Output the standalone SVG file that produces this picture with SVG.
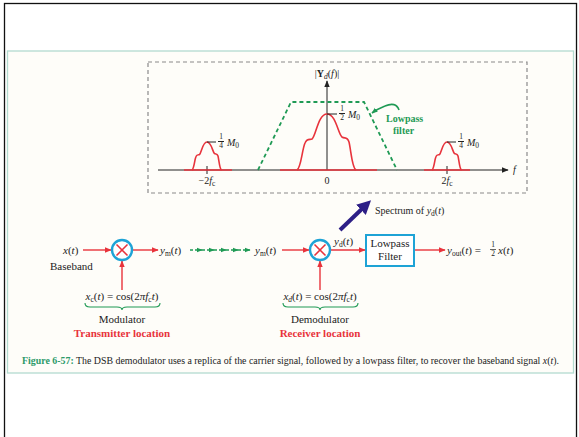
<svg xmlns="http://www.w3.org/2000/svg" width="579" height="437" viewBox="0 0 579 437">
<style>
text{font-family:"Liberation Serif","Times New Roman",serif;fill:#222;}
.it{font-style:italic;}
.lbl{font-size:11px;}
.sm{font-size:10px;}
.sub{font-size:7.5px;}
.red{stroke:#e8333c;fill:none;stroke-width:1.6;}
.redline{stroke:#e8333c;stroke-width:1.4;fill:none;}
.axis{stroke:#222;stroke-width:1;fill:none;}
.green{stroke:#1f9a55;fill:none;}
.ring{stroke:#1ea3d6;stroke-width:2.4;fill:#fff;}
.xmark{stroke:#e8333c;stroke-width:1.6;}
.rtitle{font-weight:bold;fill:#e8333c;font-size:11px;}
</style>
<defs>
<marker id="ah" viewBox="0 0 10 10" refX="9" refY="5" markerWidth="7" markerHeight="7" orient="auto" markerUnits="userSpaceOnUse"><path d="M0,1 L10,5 L0,9 z" fill="#e8333c"/></marker>
<marker id="ahk" viewBox="0 0 10 10" refX="9" refY="5" markerWidth="7" markerHeight="7" orient="auto" markerUnits="userSpaceOnUse"><path d="M0,1 L10,5 L0,9 z" fill="#222"/></marker>
<marker id="ahg" viewBox="0 0 10 10" refX="9" refY="5" markerWidth="6" markerHeight="6" orient="auto" markerUnits="userSpaceOnUse"><path d="M0,1 L10,5 L0,9 z" fill="#1f9a55"/></marker>
<marker id="ahb" viewBox="0 0 10 10" refX="5" refY="5" markerWidth="14" markerHeight="14" orient="auto" markerUnits="userSpaceOnUse"><path d="M0,0 L10,5 L0,10 z" fill="#2d1f86"/></marker>
</defs>

<rect x="0" y="0" width="579" height="437" fill="#ffffff"/>
<rect x="4.5" y="3.5" width="572" height="440" fill="none" stroke="#111" stroke-width="1.3"/>
<rect x="7.5" y="51" width="566" height="322" fill="#fefdf9" stroke="#b3dbd0" stroke-width="1.3"/>

<g id="spectrum">
<rect x="148" y="62" width="379" height="131" fill="none" stroke="#8a8a8a" stroke-width="1.2" stroke-dasharray="4,3"/>
<line class="axis" x1="158" y1="170" x2="508" y2="170" marker-end="url(#ahk)"/>
<line class="axis" x1="327" y1="170" x2="327" y2="81" marker-end="url(#ahk)"/>
<line class="axis" x1="207" y1="166" x2="207" y2="174"/>
<line class="axis" x1="447" y1="166" x2="447" y2="174"/>
<line class="redline" x1="280" y1="170" x2="377" y2="170"/>
<line class="redline" x1="184" y1="170" x2="232" y2="170"/>
<line class="redline" x1="424" y1="170" x2="470" y2="170"/>
<path class="red" d="M297,170 C301,168 302,150 305,143 C307,138 310,140 312,139 C316,136 318,114 327,114 C336,114 338,134 342,137 C345,139 347,136 349,142 C351,150 352,168 356,170"/>
<path class="red" d="M192,170 C194,169 194.5,160 196,156.5 C197,154 198.5,155 199.5,154.5 C201.5,153 202.5,142 207,142 C211.5,142 212.5,152 214.5,153.5 C216,154.5 217,153 218,156 C219,160 219.5,169 221.5,170"/>
<path class="red" d="M432,170 C434,169 434.5,160 436,156.5 C437,154 438.5,155 439.5,154.5 C441.5,153 442.5,142 447,142 C451.5,142 452.5,152 454.5,153.5 C456,154.5 457,153 458,156 C459,160 459.5,169 461.5,170"/>
<path d="M258,170 L291,102 L364,102 L397,170" stroke="#1f9a55" stroke-width="1.8" fill="none" stroke-dasharray="4,3"/>
<path d="M399,110 C397,104 392,103 385,106 C380,108 376,110 372,113" class="green" stroke-width="1.6" marker-end="url(#ahg)"/>
<text x="386" y="122" style="font-weight:bold;fill:#1f9a55;font-size:10px">Lowpass</text>
<text x="393" y="134" style="font-weight:bold;fill:#1f9a55;font-size:10px">filter</text>
<text x="327" y="77" text-anchor="middle" class="sm">|<tspan font-weight="bold">Y</tspan><tspan class="it sub" dy="2">d</tspan><tspan dy="-2">(</tspan><tspan class="it">f</tspan>)|</text>
<text x="513" y="173" class="it sm">f</text>
<text x="207" y="184" text-anchor="middle" class="sm">−2<tspan class="it">f</tspan><tspan class="sub" dy="2">c</tspan></text>
<text x="327" y="184" text-anchor="middle" class="sm">0</text>
<text x="447" y="184" text-anchor="middle" class="sm">2<tspan class="it">f</tspan><tspan class="sub" dy="2">c</tspan></text>
<line class="axis" x1="327" y1="114" x2="337" y2="114"/>
<text x="342" y="111" text-anchor="middle" style="font-size:7.5px">1</text>
<line class="axis" x1="339" y1="113.5" x2="345" y2="113.5" stroke-width="0.7"/>
<text x="342" y="120" text-anchor="middle" style="font-size:7.5px">2</text>
<text x="348" y="118" class="it sm">M<tspan class="sub" dy="2" font-style="normal">0</tspan></text>
<line class="axis" x1="207" y1="142" x2="216" y2="142"/>
<text x="221" y="139" text-anchor="middle" style="font-size:7.5px">1</text>
<line class="axis" x1="218" y1="141.5" x2="224" y2="141.5" stroke-width="0.7"/>
<text x="221" y="148" text-anchor="middle" style="font-size:7.5px">4</text>
<text x="227" y="146" class="it sm">M<tspan class="sub" dy="2" font-style="normal">0</tspan></text>
<line class="axis" x1="447" y1="142" x2="456" y2="142"/>
<text x="461" y="139" text-anchor="middle" style="font-size:7.5px">1</text>
<line class="axis" x1="458" y1="141.5" x2="464" y2="141.5" stroke-width="0.7"/>
<text x="461" y="148" text-anchor="middle" style="font-size:7.5px">4</text>
<text x="467" y="146" class="it sm">M<tspan class="sub" dy="2" font-style="normal">0</tspan></text>
</g>

<g id="connectors">
<line class="redline" x1="83" y1="250" x2="111" y2="250" marker-end="url(#ah)"/>
<line class="redline" x1="133" y1="250" x2="158" y2="250" marker-end="url(#ah)"/>
<line class="redline" x1="122" y1="290" x2="122" y2="261" marker-end="url(#ah)"/>
<g class="green" stroke-width="1.4">
<line x1="190" y1="250" x2="202" y2="250" stroke-dasharray="3,2" marker-end="url(#ahg)"/>
<line x1="202" y1="250" x2="214" y2="250" stroke-dasharray="3,2" marker-end="url(#ahg)"/>
<line x1="214" y1="250" x2="226" y2="250" stroke-dasharray="3,2" marker-end="url(#ahg)"/>
<line x1="226" y1="250" x2="238" y2="250" stroke-dasharray="3,2" marker-end="url(#ahg)"/>
<line x1="238" y1="250" x2="250" y2="250" stroke-dasharray="3,2" marker-end="url(#ahg)"/>
</g>
<line class="redline" x1="282" y1="250" x2="309" y2="250" marker-end="url(#ah)"/>
<line class="redline" x1="331" y1="250" x2="365" y2="250" marker-end="url(#ah)"/>
<line class="redline" x1="320" y1="290" x2="320" y2="261" marker-end="url(#ah)"/>
<line class="redline" x1="414" y1="250" x2="445" y2="250" marker-end="url(#ah)"/>
<line x1="340" y1="230" x2="366" y2="205" stroke="#2d1f86" stroke-width="4" marker-end="url(#ahb)"/>
</g>

<g id="input">
<text x="63" y="254" class="lbl"><tspan class="it">x</tspan>(<tspan class="it">t</tspan>)</text>
<text x="50" y="270" class="lbl">Baseband</text>
</g>

<g id="modulator">
<circle cx="122" cy="250" r="10" class="ring"/>
<line class="xmark" x1="116.5" y1="244.5" x2="127.5" y2="255.5"/>
<line class="xmark" x1="127.5" y1="244.5" x2="116.5" y2="255.5"/>
<text x="122" y="300" text-anchor="middle" class="lbl"><tspan class="it">x</tspan><tspan class="sub" dy="2">c</tspan><tspan dy="-2">(</tspan><tspan class="it">t</tspan>) = cos(2<tspan class="it">πf</tspan><tspan class="sub" dy="2">c</tspan><tspan class="it" dy="-2">t</tspan>)</text>
<path d="M85,303 Q85,307 90,307 L117,307 Q122,307 122,310 Q122,307 127,307 L155,307 Q160,307 160,303" class="green" stroke-width="1.1"/>
<text x="122" y="323" text-anchor="middle" class="lbl">Modulator</text>
<text x="122" y="337" text-anchor="middle" class="rtitle">Transmitter location</text>
</g>

<g id="channel">
<text x="160" y="254" class="lbl"><tspan class="it">y</tspan><tspan class="sub" dy="2">m</tspan><tspan dy="-2">(</tspan><tspan class="it">t</tspan>)</text>
<text x="255" y="254" class="lbl"><tspan class="it">y</tspan><tspan class="sub" dy="2">m</tspan><tspan dy="-2">(</tspan><tspan class="it">t</tspan>)</text>
</g>

<g id="demodulator">
<circle cx="320" cy="250" r="10" class="ring"/>
<line class="xmark" x1="314.5" y1="244.5" x2="325.5" y2="255.5"/>
<line class="xmark" x1="325.5" y1="244.5" x2="314.5" y2="255.5"/>
<text x="334" y="245" class="lbl"><tspan class="it">y</tspan><tspan class="sub" dy="2">d</tspan><tspan dy="-2">(</tspan><tspan class="it">t</tspan>)</text>
<text x="320" y="300" text-anchor="middle" class="lbl"><tspan class="it">x</tspan><tspan class="sub it" dy="2">d</tspan><tspan dy="-2">(</tspan><tspan class="it">t</tspan>) = cos(2<tspan class="it">πf</tspan><tspan class="sub" dy="2">c</tspan><tspan class="it" dy="-2">t</tspan>)</text>
<path d="M283,303 Q283,307 288,307 L315,307 Q320,307 320,310 Q320,307 325,307 L353,307 Q358,307 358,303" class="green" stroke-width="1.1"/>
<text x="320" y="323" text-anchor="middle" class="lbl">Demodulator</text>
<text x="320" y="337" text-anchor="middle" class="rtitle">Receiver location</text>
<text x="375" y="214" class="sm">Spectrum of <tspan class="it">y</tspan><tspan class="sub" dy="2">d</tspan><tspan dy="-2">(</tspan><tspan class="it">t</tspan>)</text>
</g>

<g id="lpf">
<rect x="366" y="235" width="48" height="31" fill="#fff" stroke="#1ea3d6" stroke-width="2"/>
<text x="390" y="247" text-anchor="middle" class="lbl">Lowpass</text>
<text x="390" y="260" text-anchor="middle" class="lbl">Filter</text>
</g>

<g id="output">
<text x="447" y="254" class="lbl"><tspan class="it">y</tspan><tspan class="sub" dy="2">out</tspan><tspan dy="-2">(</tspan><tspan class="it">t</tspan>) = </text>
<text x="493" y="247" text-anchor="middle" style="font-size:7.5px">1</text>
<line x1="490" y1="249.5" x2="496" y2="249.5" stroke="#222" stroke-width="0.7"/>
<text x="493" y="256" text-anchor="middle" style="font-size:7.5px">2</text>
<text x="498" y="254" class="lbl"><tspan class="it">x</tspan>(<tspan class="it">t</tspan>)</text>
</g>

<text x="22" y="364" style="font-size:9.6px" textLength="537" lengthAdjust="spacingAndGlyphs"><tspan style="font-weight:bold;fill:#2c9a6a">Figure 6-57:</tspan> The DSB demodulator uses a replica of the carrier signal, followed by a lowpass filter, to recover the baseband signal <tspan class="it">x</tspan>(<tspan class="it">t</tspan>).</text>
</svg>
